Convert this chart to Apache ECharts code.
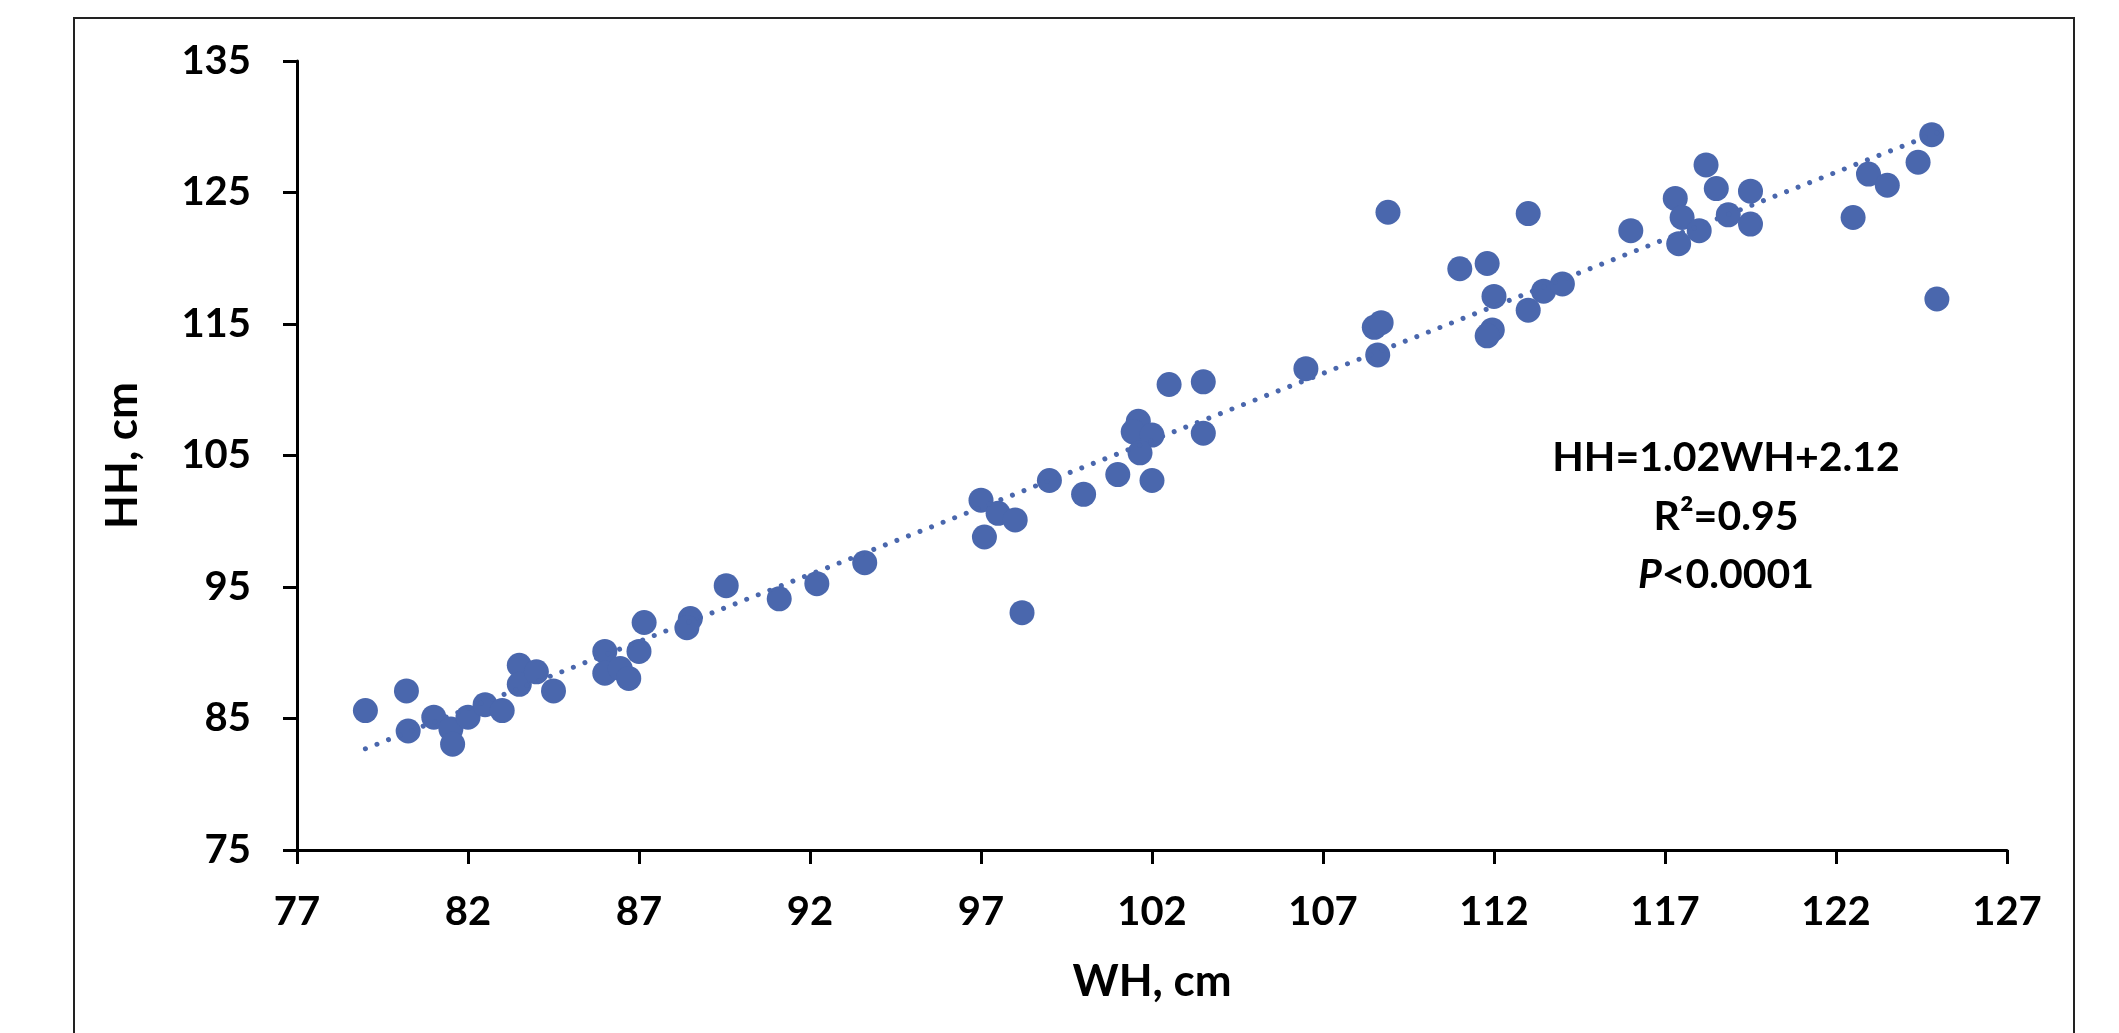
<!DOCTYPE html>
<html>
<head>
<meta charset="utf-8">
<title>HH vs WH</title>
<script src="https://cdn.jsdelivr.net/npm/echarts@6.0.0/dist/echarts.min.js"></script>
<style>
  html, body { margin: 0; padding: 0; background: #fff; }
  #chart { width: 2119px; height: 1033px; }
</style>
</head>
<body>
<div id="chart"></div>
<script>
// one entry per animal: WH on x, HH on y (cm)
const wh = [
  79.0, 80.2, 80.25, 81.0, 81.5, 81.55, 82.0, 82.5, 83.0, 83.5,
  83.5, 84.0, 84.5, 86.0, 86.0, 86.45, 86.7, 87.0, 87.15, 88.5,
  88.4, 89.55, 91.1, 92.2, 93.6, 97.0, 97.5, 98.0, 97.1, 98.2,
  99.0, 100.0, 101.0, 101.6, 101.45, 102.0, 101.65, 102.0, 102.5, 103.5,
  103.5, 106.5, 108.5, 108.7, 108.6, 108.9, 111.0, 111.8, 112.0, 111.95,
  111.8, 113.0, 113.0, 113.45, 114.0, 116.0, 117.3, 117.5, 117.4, 118.0,
  118.2, 118.5, 118.85, 119.5, 119.5, 122.5, 122.95, 123.5, 124.4, 124.8,
  124.95
]
const hh = [
  85.6, 87.1, 84.05, 85.1, 84.2, 83.05, 85.1, 86.05, 85.6, 89.05,
  87.6, 88.55, 87.1, 90.1, 88.45, 88.8, 88.05, 90.1, 92.3, 92.6,
  91.9, 95.1, 94.1, 95.25, 96.85, 101.6, 100.6, 100.1, 98.8, 93.05,
  103.1, 102.05, 103.55, 107.6, 106.8, 106.55, 105.2, 103.1, 110.4, 110.6,
  106.7, 111.6, 114.75, 115.1, 112.65, 123.5, 119.2, 119.6, 117.1, 114.55,
  114.1, 116.05, 123.4, 117.5, 118.05, 122.1, 124.55, 123.1, 121.1, 122.1,
  127.1, 125.3, 123.3, 125.1, 122.6, 123.1, 126.4, 125.55, 127.3, 129.4,
  116.9
]

// dotted linear trendline, end points as drawn
const trendWh = [79, 125]
const trendHh = [82.7, 129.6]

const xRange = [77, 127, 5]
const yRange = [75, 135, 10]

const blue = '#4A67AD'
const font = 'Lato, "Open Sans", sans-serif'

const points = wh.map((x, i) => [x, hh[i]])
const trend = trendWh.map((x, i) => [x, trendHh[i]])

const chart = echarts.init(document.getElementById('chart'), null, { renderer: 'canvas' })

const axisCommon = {
  type: 'value',
  splitLine: { show: false },
  axisLine: { show: true, onZero: false, lineStyle: { color: '#000', width: 3 } },
  axisTick: { show: true, inside: false, length: 14, lineStyle: { color: '#000', width: 3 } },
  nameLocation: 'middle',
  nameTextStyle: { fontFamily: font, fontWeight: 'bold', fontSize: 44, color: '#000' }
}

const lineText = (y, text, rich) => ({
  type: 'text',
  x: 1726,
  y,
  style: {
    text,
    rich,
    align: 'center',
    verticalAlign: 'middle',
    font: 'bold 41px ' + font,
    fill: '#000'
  }
})

const richBase = {
  b: { fontFamily: font, fontWeight: 'bold', fontSize: 41, color: '#000' },
  i: { fontFamily: font, fontWeight: 'bold', fontStyle: 'italic', fontSize: 41, color: '#000' }
}

chart.setOption({
  animation: false,
  backgroundColor: '#fff',
  grid: { left: 297, right: 112, top: 61, bottom: 183, containLabel: false },
  xAxis: Object.assign({}, axisCommon, {
    min: xRange[0],
    max: xRange[1],
    interval: xRange[2],
    name: 'WH, cm',
    nameGap: 110,
    axisLabel: { margin: 42, fontFamily: font, fontWeight: 'bold', fontSize: 40, color: '#000' }
  }),
  yAxis: Object.assign({}, axisCommon, {
    min: yRange[0],
    max: yRange[1],
    interval: yRange[2],
    name: 'HH, cm',
    nameGap: 152,
    axisLabel: { margin: 46, fontFamily: font, fontWeight: 'bold', fontSize: 40, color: '#000' }
  }),
  series: [
    {
      type: 'scatter',
      data: points,
      symbol: 'circle',
      symbolSize: 25,
      itemStyle: { color: blue, opacity: 1 },
      z: 2
    },
    {
      type: 'line',
      data: trend,
      symbol: 'none',
      lineStyle: { color: blue, width: 5, type: [0.01, 12.4], cap: 'round' },
      z: 3
    }
  ],
  graphic: [
    {
      type: 'rect',
      shape: { x: 74, y: 18, width: 2000, height: 1040 },
      style: { fill: null, stroke: '#222', lineWidth: 2 },
      silent: true,
      z: -1
    },
    lineText(458, '{b|HH=1.02WH+2.12}', richBase),
    lineText(517, '{b|R²=0.95}', richBase),
    lineText(575, '{i|P}{b|<0.0001}', richBase)
  ]
})
</script>
</body>
</html>
